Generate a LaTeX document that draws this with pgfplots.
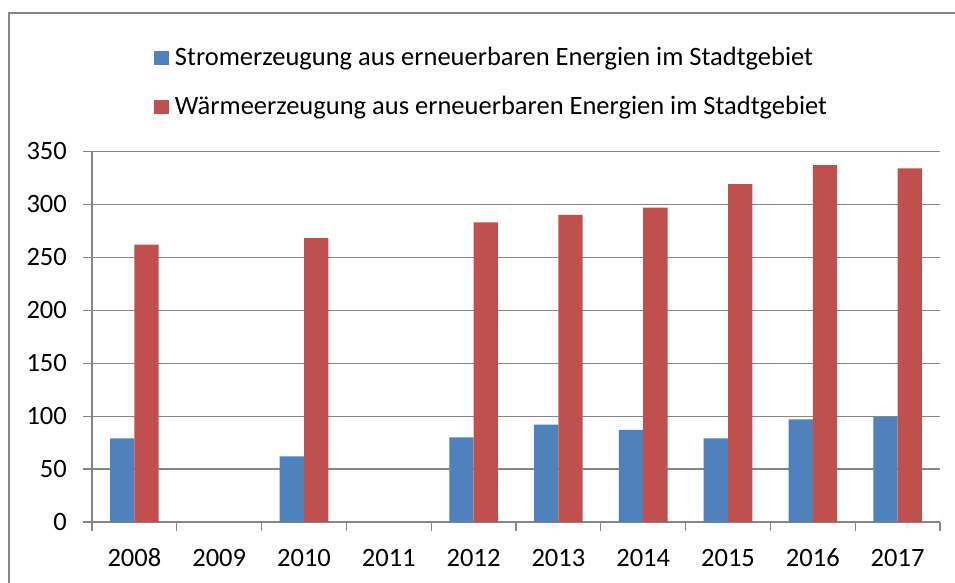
\documentclass[border=0pt]{standalone}
\usepackage{fontspec}
\setmainfont{Carlito}
\usepackage{pgfplots}
\pgfplotsset{compat=1.18}
\definecolor{cblue}{RGB}{79,129,189}
\definecolor{cred}{RGB}{192,80,77}
\definecolor{cgray}{RGB}{134,134,134}
\begin{document}
\begin{tikzpicture}
\useasboundingbox (-92bp,-61bp) rectangle (863bp,522bp);
\draw[cgray, line width=1.3bp] (-83bp,-70bp) -- (-83bp,509bp) -- (870bp,509bp);
\begin{axis}[
  scale only axis,
  width=848bp, height=370.6bp,
  font=\fontsize{26.5bp}{32bp}\selectfont,
  /pgf/number format/assume math mode=true,
  ybar=0pt, bar width=24.3bp,
  xmin=-0.5, xmax=9.5,
  ymin=0, ymax=350,
  axis x line*=bottom, axis y line*=left,
  axis line style={cgray, line width=1.2bp},
  ytick={0,50,...,350},
  ymajorgrids,
  grid style={cgray, line width=1.2bp},
  tick style={cgray, line width=1.2bp},
  tick align=outside,
  major tick length=9bp,
  xtick={-0.5,0.5,...,9.5},
  xticklabels={},
  extra x ticks={0,1,2,3,4,5,6,7,8,9},
  extra x tick labels={2008,2009,2010,2011,2012,2013,2014,2015,2016,2017},
  extra x tick style={major tick length=0pt, grid=none,
     xticklabel style={anchor=north, inner sep=0pt, text height=17.3bp, text depth=0pt, yshift=-27bp}},
  yticklabel style={anchor=east, inner sep=0pt, xshift=-16bp},
  legend style={draw=none, fill=none, inner sep=0pt, outer sep=0pt,
     at={(0.0731,1.2809)}, anchor=north west,
     row sep=25bp, column sep=6bp,
     nodes={inner sep=0pt, text height=18bp, text depth=6bp, font=\fontsize{26.5bp}{32bp}\selectfont}},
  legend cell align=left,
  legend image code/.code={\fill[#1] (0bp,-6bp) rectangle (15bp,8bp);},
]
\addplot[fill=cblue, draw=none] coordinates {(0,79) (2,62) (4,80) (5,92) (6,87) (7,79) (8,97) (9,99)};
\addplot[fill=cred, draw=none] coordinates {(0,262) (2,268) (4,283) (5,290) (6,297) (7,319) (8,337) (9,334)};
\legend{Stromerzeugung aus erneuerbaren Energien im Stadtgebiet, Wärmeerzeugung aus erneuerbaren Energien im Stadtgebiet}
\end{axis}
\end{tikzpicture}
\end{document}
